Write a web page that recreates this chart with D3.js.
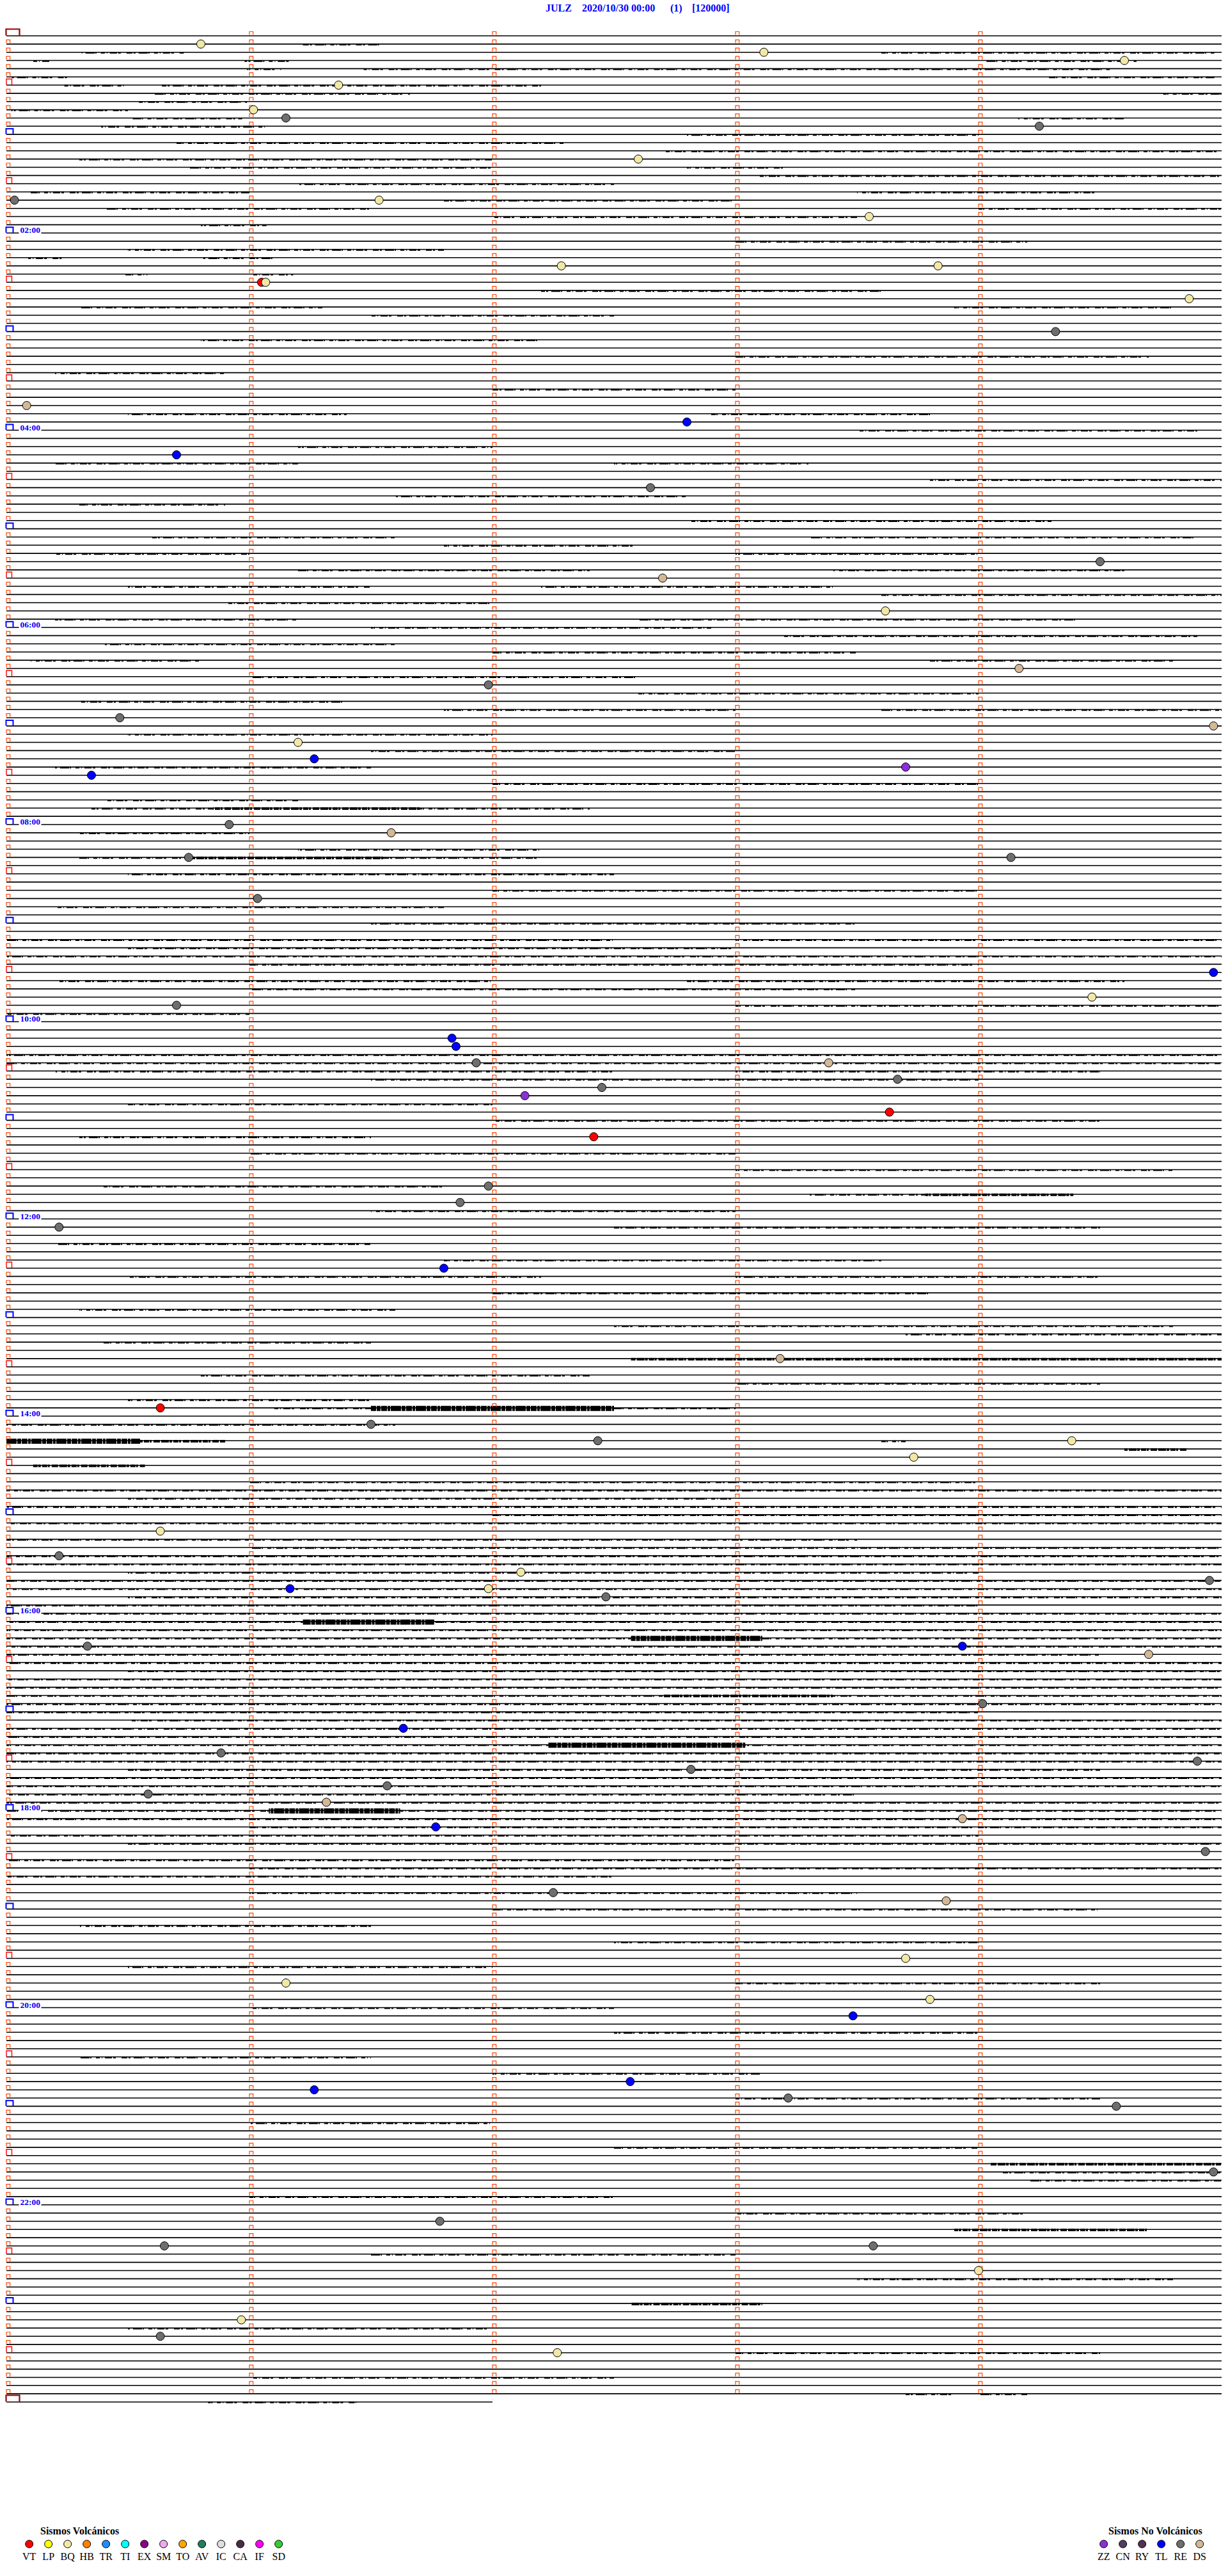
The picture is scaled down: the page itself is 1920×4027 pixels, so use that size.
<!DOCTYPE html>
<html>
<head>
<meta charset="utf-8">
<script src="https://cdn.jsdelivr.net/npm/d3@7"></script>
<style>
  body { margin: 0; background: #fff; }
  svg { display: block; }
</style>
</head>
<body>
<div id="chart"></div>
<script>
const titleParts = ["JULZ", "2020/10/30 00:00", "(1)", "[120000]"];
const minutesPerRow = 5;
const rowCount = 289;          // 00:00 ... 24:00
const lastRowEnd = 2.0;        // minutes drawn on the 24:00 row
const hourLabels = ["02:00", "04:00", "06:00", "08:00", "10:00", "12:00",
                    "14:00", "16:00", "18:00", "20:00", "22:00"];

const eventTimes = [
  "00:05:48", "00:13:07", "00:19:36", "00:31:22", "00:46:01", "00:51:09", "00:59:15",
  "01:17:36", "01:40:02", "01:41:32", "01:53:33", "02:22:17", "02:23:50", "02:31:03",
  "02:31:04", "02:44:52", "03:04:19", "03:45:05", "03:57:48", "04:15:42", "04:37:39",
  "05:24:30", "05:32:42", "05:53:37", "06:29:10", "06:36:59", "06:55:28", "07:04:58",
  "07:11:12", "07:21:16", "07:28:42", "07:30:21", "08:00:55", "08:06:35", "08:20:45",
  "08:24:08", "08:46:02", "09:34:58", "09:49:28", "09:50:42", "10:11:50", "10:16:51",
  "10:26:56", "10:28:23", "10:38:40", "10:42:27", "10:47:08", "10:58:38", "11:12:25",
  "11:41:59", "11:51:52", "12:05:13", "12:31:48", "13:28:11", "13:55:38", "14:06:30",
  "14:17:26", "14:19:23", "14:28:44", "15:10:38", "15:25:13", "15:37:07", "15:44:57",
  "15:46:10", "15:46:59", "15:52:28", "16:20:20", "16:23:56", "16:29:42", "16:59:01",
  "17:11:38", "17:25:53", "17:34:54", "17:37:49", "17:46:34", "17:50:35", "17:56:19",
  "18:08:56", "18:11:46", "18:29:56", "18:52:15", "18:58:52", "19:33:42", "19:46:09",
  "19:58:48", "20:08:29", "20:47:34", "20:51:16", "20:58:13", "21:04:34", "21:44:58",
  "22:11:47", "22:25:39", "22:28:34", "22:44:00", "23:10:58", "23:20:38", "23:32:16"
];
const eventTypes = [
  "BQ", "BQ", "BQ", "BQ", "BQ", "RE", "RE",
  "BQ", "RE", "BQ", "BQ", "BQ", "BQ", "VT",
  "BQ", "BQ", "RE", "DS", "TL", "TL", "RE",
  "RE", "DS", "BQ", "DS", "RE", "RE", "DS",
  "BQ", "TL", "ZZ", "TL", "RE", "DS", "RE",
  "RE", "RE", "TL", "BQ", "RE", "TL", "TL",
  "RE", "DS", "RE", "RE", "ZZ", "VT", "VT",
  "RE", "RE", "RE", "TL", "DS", "VT", "RE",
  "RE", "BQ", "BQ", "BQ", "RE", "BQ", "RE",
  "TL", "BQ", "RE", "RE", "TL", "DS", "RE",
  "TL", "RE", "RE", "RE", "RE", "RE", "DS",
  "DS", "TL", "RE", "RE", "DS", "BQ", "BQ",
  "BQ", "TL", "TL", "TL", "RE", "RE", "RE",
  "RE", "RE", "RE", "BQ", "BQ", "RE", "BQ"
];

// trace activity: [row, from minute, to minute, level 1..3]
const noise = [
  [1,1.22,1.54,1], [2,0.31,0.73,1], [2,3.6,4.97,1], [3,0.1,0.18,1], [3,0.98,1.18,1], [3,4.03,4.65,1],
  [4,0.99,1.13,1], [4,1.47,4.54,1], [5,0.02,0.26,1], [5,4.29,4.97,1], [6,0.22,0.49,1], [6,0.64,2.2,1],
  [7,0.6,1.66,1], [7,4.76,5,1], [8,0.54,0.99,1], [9,0.02,0.5,1], [10,0.52,0.97,1], [10,4.16,4.6,1],
  [11,0.39,1.07,1], [12,2.8,4.0,1], [13,0.7,2.3,1], [14,2.7,5.0,1], [15,0.3,2.0,1], [16,0.75,2.0,1],
  [16,2.8,3.2,1], [17,3.1,5.0,1], [18,1.2,2.5,1], [19,0.1,1.0,1], [19,3.5,4.5,1], [20,1.8,3.0,1],
  [21,0.4,1.5,1], [21,4.0,5.0,1], [22,2.0,3.5,1], [23,0.8,1.07,1], [25,3.0,4.2,1], [26,0.5,1.8,1],
  [27,0.09,0.24,1], [27,0.81,1.1,1], [29,0.49,0.58,1], [29,1.0,1.18,1], [31,2.2,3.6,1], [33,0.3,1.3,1],
  [33,3.9,4.8,1], [34,1.5,2.5,1], [37,0.8,2.2,1], [39,3.0,4.7,1], [41,0.2,0.9,1], [43,2.0,3.0,1],
  [46,0.5,1.4,1], [46,2.9,3.8,1], [48,3.5,4.9,1], [50,1.2,2.0,1], [52,0.2,1.2,1], [52,2.5,3.3,1],
  [54,3.8,5.0,1], [56,1.6,2.8,1], [57,0.3,0.9,1], [59,2.8,4.3,1], [61,0.6,1.6,1], [61,3.3,4.9,1],
  [62,1.8,2.6,1], [63,0.2,1.0,1], [63,3.0,4.0,1], [65,1.2,2.4,1], [65,3.4,4.6,1], [67,0.5,1.5,1],
  [67,2.2,3.4,1], [68,3.6,5.0,1], [69,0.9,2.0,1], [71,0.2,1.2,1], [71,2.6,4.4,1], [72,1.5,2.9,1],
  [73,3.2,4.9,1], [74,0.4,1.6,1], [75,2.0,3.5,1], [76,0.1,0.8,1], [76,3.8,4.8,1], [78,1.0,2.6,1],
  [80,2.6,4.0,1], [81,0.3,1.4,1], [82,1.8,3.0,1], [82,3.6,5.0,1], [85,0.5,2.0,1], [87,1.5,3.0,1],
  [89,0.2,1.5,1], [91,2.0,4.0,1], [93,0.4,1.2,1], [94,0.35,0.85,1], [94,0.85,1.7,2], [94,1.7,2.4,1],
  [97,0.3,1.0,1], [99,1.2,2.2,1], [100,0.3,0.75,1], [100,0.75,1.55,2], [100,1.55,2.2,1], [102,0.5,2.5,1],
  [104,2.0,4.0,1], [106,0.2,1.8,1], [108,1.5,3.5,1], [110,0.0,2.5,1], [110,3.0,5.0,1], [111,0.5,3.0,1],
  [112,0.0,5.0,1], [113,1.0,4.0,1], [115,0.2,2.0,1], [115,2.8,4.6,1], [116,1.0,3.5,1], [118,3.0,5.0,1],
  [119,0.0,1.0,1], [124,0.0,5.0,1], [125,0.0,5.0,1], [126,0.2,2.5,1], [126,3.0,4.5,1], [127,1.5,4.0,1],
  [130,0.5,2.0,1], [132,2.0,4.5,1], [134,0.3,1.5,1], [136,1.0,3.0,1], [138,3.0,4.8,1], [140,0.4,1.8,1],
  [141,3.3,3.78,1], [141,3.78,4.39,2], [143,1.5,3.0,1], [145,2.5,4.5,1], [147,0.2,1.5,1], [149,1.8,3.6,1],
  [151,0.5,2.2,1], [151,3.0,4.5,1], [153,2.0,3.8,1], [155,0.3,1.6,1], [157,2.5,4.8,1], [158,3.7,5.0,1],
  [159,0.4,1.5,1], [161,2.57,5.0,2], [163,0.8,2.4,1], [164,3.0,4.5,1], [166,0.5,1.5,1], [167,1.1,1.5,1],
  [167,1.5,2.5,3], [167,2.5,3.0,1], [169,0.0,1.6,1], [171,0.0,0.55,3], [171,0.55,0.9,2], [171,3.6,3.7,1],
  [172,4.6,4.86,2], [174,0.11,0.57,2], [176,1.0,4.0,1], [177,0.0,5.0,1], [178,0.5,3.0,1], [179,0.0,5.0,1],
  [180,2.0,5.0,1], [181,0.0,5.0,1], [183,0.0,3.5,1], [184,1.0,5.0,1], [185,0.0,5.0,1], [186,0.0,5.0,1],
  [187,0.5,4.0,1], [188,0.0,5.0,1], [189,0.0,5.0,1], [190,0.5,5.0,1], [191,0.0,4.0,1], [192,0.0,5.0,1],
  [193,0.0,1.22,1], [193,1.22,1.76,3], [193,1.76,5.0,1], [194,0.0,5.0,1], [195,0.0,2.57,1], [195,2.57,3.11,3],
  [195,3.11,5.0,1], [196,0.0,5.0,1], [197,0.0,4.5,1], [198,0.0,5.0,1], [199,0.5,5.0,1], [200,0.0,5.0,1],
  [201,0.0,5.0,1], [202,0.0,2.7,1], [202,2.7,3.4,2], [202,3.4,5.0,1], [203,0.0,5.0,1], [204,0.0,4.0,1],
  [205,0.5,5.0,1], [206,0.0,5.0,1], [207,0.0,5.0,1], [208,0.0,2.23,1], [208,2.23,3.04,3], [208,3.04,5.0,1],
  [209,0.0,5.0,1], [210,0.0,5.0,1], [211,0.5,4.5,1], [212,0.0,5.0,1], [213,0.0,5.0,1], [214,0.0,3.5,1],
  [215,0.0,5.0,1], [216,0.0,1.08,1], [216,1.08,1.62,3], [216,1.62,5.0,1], [217,0.0,5.0,1], [218,1.0,5.0,1],
  [219,0.0,4.0,1], [220,0.5,5.0,1], [222,0.0,3.0,1], [223,1.0,5.0,1], [224,0.0,2.5,1], [226,1.0,3.5,1],
  [228,2.0,4.5,1], [230,0.3,1.5,1], [232,2.5,4.0,1], [235,0.5,2.0,1], [237,3.0,4.5,1], [240,1.0,2.5,1],
  [243,2.5,4.0,1], [246,0.3,1.5,1], [248,2.0,3.1,1], [251,3.0,4.5,1], [254,1.0,2.0,1], [257,2.5,4.0,1],
  [259,4.05,5.0,2], [260,4.1,5.0,1], [261,4.2,5.0,1], [263,1.0,2.5,1], [265,3.0,4.2,1], [267,3.9,4.7,2],
  [270,1.5,3.0,1], [273,3.5,4.8,1], [276,2.57,3.11,2], [279,0.5,2.0,1], [282,3.0,4.5,1], [285,1.0,2.5,1],
  [287,3.7,3.9,1], [287,4.0,4.2,1], [288,0.83,1.44,1]
];

const volcTitle = "Sismos Volcánicos";
const volcCodes = ["VT", "LP", "BQ", "HB", "TR", "TI", "EX", "SM", "TO", "AV", "IC", "CA", "IF", "SD"];
const volcColors = ["#ff0000", "#ffff00", "#f2e8a6", "#ff8000", "#1e8cff", "#00ffff", "#8b008b",
                    "#eeaaee", "#ffa500", "#1f7f5c", "#dedede", "#4b2a48", "#ff00ff", "#33cc33"];
const nonVolcTitle = "Sismos No Volcánicos";
const nonVolcCodes = ["ZZ", "CN", "RY", "TL", "RE", "DS"];
const nonVolcColors = ["#8b2fd6", "#4f3f5f", "#543054", "#0000ff", "#6e6e6e", "#d4b896"];

// ---- drawing ----
const W = 1920, H = 4027;
const serif = "'Liberation Serif', 'DejaVu Serif', serif";

const colorOf = d3.scaleOrdinal()
  .domain(volcCodes.concat(nonVolcCodes))
  .range(volcColors.concat(nonVolcColors));

const x = d3.scaleLinear().domain([0, minutesPerRow]).range([10, 1910]);
const y = d3.scaleLinear().domain([0, rowCount - 1]).range([56, 3755]);

const svg = d3.select("#chart").append("svg")
  .attr("width", W).attr("height", H)
  .style("background", "#fff");

// title
const titleX = [853, 910, 1048, 1082];
svg.append("g").selectAll("text").data(titleParts).join("text")
  .attr("x", (d, i) => titleX[i]).attr("y", 18)
  .attr("font-family", serif).attr("font-weight", "bold").attr("font-size", 16)
  .attr("fill", "#0000ff").text(d => d);

const rows = d3.range(rowCount);

// baselines
svg.append("g").selectAll("line").data(rows).join("line")
  .attr("x1", x(0))
  .attr("x2", r => r === rowCount - 1 ? x(lastRowEnd) : x(minutesPerRow))
  .attr("y1", r => y(r)).attr("y2", r => y(r))
  .attr("stroke", "#000").attr("stroke-width", 1.6);

// trace activity, drawn as broken thickening of the trace
const nWidth = [0, 2.6, 4, 8];
const nDash = [null,
  "9 2 3 5 14 1 2 7 6 3 1 4 11 2 4 9",
  "12 1 4 2 8 1 3 3 10 2",
  "16 1 6 1 9 1 4 1"];
svg.append("g").selectAll("line").data(noise).join("line")
  .attr("x1", d => x(d[1])).attr("x2", d => x(d[2]))
  .attr("y1", d => y(d[0]) + 0.8).attr("y2", d => y(d[0]) + 0.8)
  .attr("stroke", "#000")
  .attr("stroke-width", d => nWidth[d[3]])
  .attr("stroke-dasharray", d => nDash[d[3]])
  .attr("stroke-dashoffset", (d, i) => (i * 13) % 47);

// minute marks
const marks = [];
rows.forEach(r => {
  for (let k = 0; k < minutesPerRow; k++) {
    if (r === rowCount - 1 && k > 0) continue;
    let kind = "min";
    if (k === 0) {
      if (r % 288 === 0) kind = "day";
      else if (r % 12 === 0) kind = "hour";
      else if (r % 6 === 0) kind = "half";
    }
    marks.push({ r, k, kind });
  }
});
const markStyle = {
  min:  { x0: 0, x1: 5.7, h: 5, c: "#ff4500", w: 1.2 },
  half: { x0: 0, x1: 8.5, h: 9, c: "#ff0000", w: 1.4 },
  hour: { x0: -0.5, x1: 10.5, h: 8.5, c: "#0000ff", w: 2 },
  day:  { x0: -0.5, x1: 20.5, h: 10, c: "#990000", w: 2.2 }
};
svg.append("g").selectAll("path").data(marks).join("path")
  .attr("d", d => {
    const s = markStyle[d.kind];
    const gx = x(d.k), gy = y(d.r) - (d.kind === "min" ? 1.5 : 0.5);
    return `M${gx + s.x0},${gy} V${gy - s.h} H${gx + s.x1} V${gy}`;
  })
  .attr("fill", "none")
  .attr("stroke", d => markStyle[d.kind].c)
  .attr("stroke-width", d => markStyle[d.kind].w);

// hour labels
const labelRows = hourLabels.map(t => +t.slice(0, 2) * 60 / minutesPerRow);
const lab = svg.append("g").selectAll("g").data(hourLabels).join("g")
  .attr("transform", (d, i) => `translate(0,${y(labelRows[i])})`);
lab.append("rect").attr("x", 29.5).attr("y", -3).attr("width", 35).attr("height", 6).attr("fill", "#fff");
lab.append("text").attr("x", 31.5).attr("y", 0)
  .attr("font-family", serif).attr("font-weight", "bold").attr("font-size", 13.5)
  .attr("fill", "#0000ff").text(d => d);

// events
const events = eventTimes.map((t, i) => {
  const p = t.split(":").map(Number);
  const min = p[0] * 60 + p[1] + p[2] / 60;
  return { row: Math.floor(min / minutesPerRow), m: min % minutesPerRow, type: eventTypes[i] };
});
svg.append("g").selectAll("circle").data(events).join("circle")
  .attr("cx", d => x(d.m)).attr("cy", d => y(d.row))
  .attr("r", 6.5)
  .attr("fill", d => colorOf(d.type))
  .attr("stroke", "#000").attr("stroke-width", 1);

// legends
function legend(title, codes, x0, titleX) {
  const g = svg.append("g");
  g.append("text").attr("x", titleX).attr("y", 3962)
    .attr("font-family", serif).attr("font-weight", "bold").attr("font-size", 16)
    .attr("fill", "#000").text(title);
  const items = g.selectAll("g").data(codes).join("g")
    .attr("transform", (d, i) => `translate(${x0 + i * 30},0)`);
  items.append("circle").attr("cy", 3977).attr("r", 6)
    .attr("fill", d => colorOf(d)).attr("stroke", "#000").attr("stroke-width", 1);
  items.append("text").attr("y", 4002).attr("text-anchor", "middle")
    .attr("font-family", serif).attr("font-size", 16).attr("fill", "#000").text(d => d);
}
legend(volcTitle, volcCodes, 45.7, 63);
legend(nonVolcTitle, nonVolcCodes, 1725.7, 1733);
</script>
</body>
</html>
